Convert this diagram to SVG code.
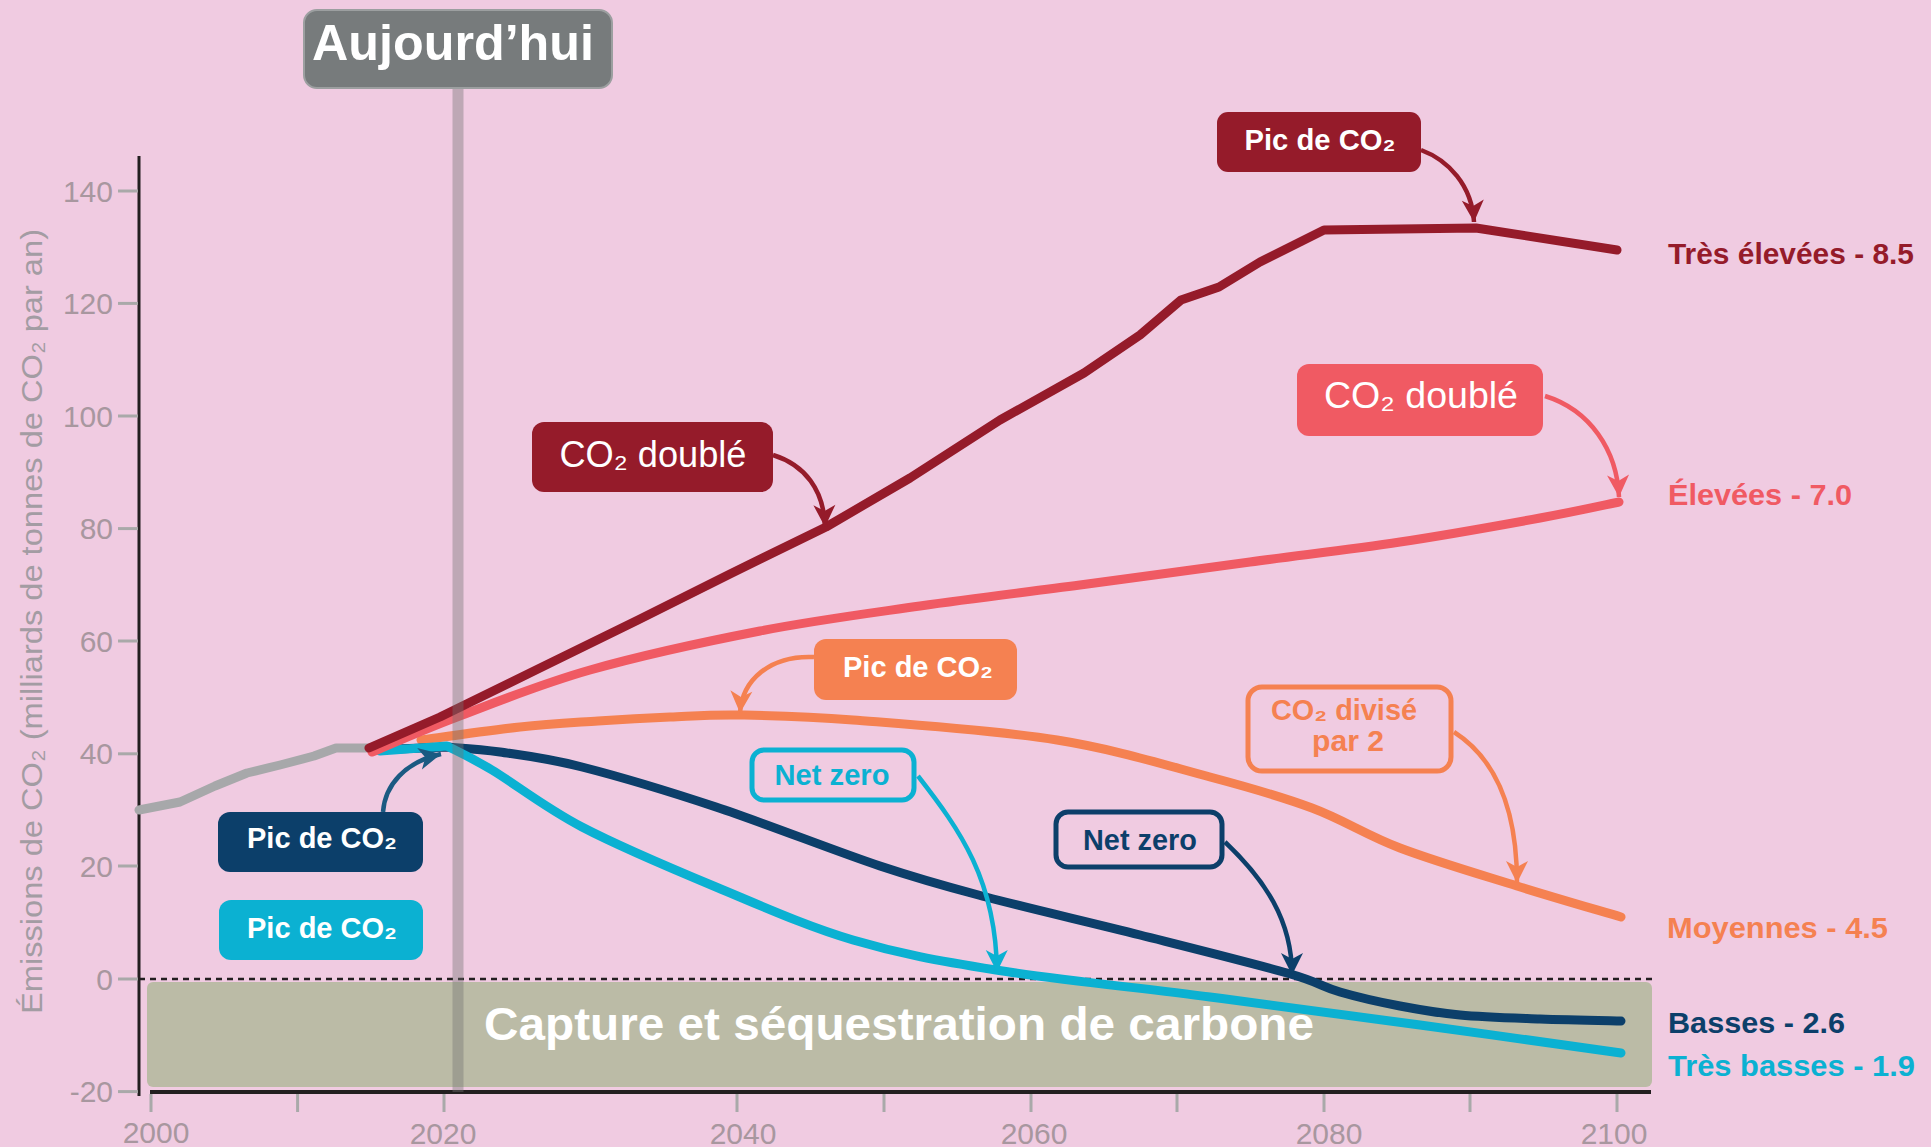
<svg xmlns="http://www.w3.org/2000/svg" width="1931" height="1147" viewBox="0 0 1931 1147">
<defs>
<style>
text{font-family:"Liberation Sans",Arial,sans-serif}
.tick{fill:#a8979f;font-size:30px}
.tl{stroke:#a9a9a9;stroke-width:3}
.series{fill:none;stroke-width:9;stroke-linejoin:round;stroke-linecap:round}
.conn{fill:none;stroke-width:4.5}
.lbl{fill:#fff;font-size:30px;font-weight:bold;text-anchor:middle}
.end{font-size:30px;font-weight:bold}
</style>
<marker id="a-dr" markerUnits="userSpaceOnUse" markerWidth="28" markerHeight="28" viewBox="-24 -14 28 28" refX="0" refY="0" orient="auto"><path d="M0,0 L-22,-11 L-16,0 L-22,11 Z" fill="#951b2a"/></marker>
<marker id="a-sa" markerUnits="userSpaceOnUse" markerWidth="28" markerHeight="28" viewBox="-24 -14 28 28" refX="0" refY="0" orient="auto"><path d="M0,0 L-22,-11 L-16,0 L-22,11 Z" fill="#f05a63"/></marker>
<marker id="a-or" markerUnits="userSpaceOnUse" markerWidth="28" markerHeight="28" viewBox="-24 -14 28 28" refX="0" refY="0" orient="auto"><path d="M0,0 L-22,-11 L-16,0 L-22,11 Z" fill="#f58151"/></marker>
<marker id="a-nv" markerUnits="userSpaceOnUse" markerWidth="28" markerHeight="28" viewBox="-24 -14 28 28" refX="0" refY="0" orient="auto"><path d="M0,0 L-22,-11 L-16,0 L-22,11 Z" fill="#0c3f6a"/></marker>
<marker id="a-nv2" markerUnits="userSpaceOnUse" markerWidth="28" markerHeight="28" viewBox="-24 -14 28 28" refX="0" refY="0" orient="auto"><path d="M0,0 L-22,-11 L-16,0 L-22,11 Z" fill="#1b5a82"/></marker>
<marker id="a-cy" markerUnits="userSpaceOnUse" markerWidth="28" markerHeight="28" viewBox="-24 -14 28 28" refX="0" refY="0" orient="auto"><path d="M0,0 L-22,-11 L-16,0 L-22,11 Z" fill="#0bb1d2"/></marker>
</defs>
<rect x="0" y="0" width="1931" height="1147" fill="#f0cbe1"/>

<g id="ccs">
<rect x="147" y="982" width="1505" height="105" rx="6" fill="#bbbba6"/>
<text x="484" y="1040" fill="#fff" font-size="46" font-weight="bold" textLength="830" lengthAdjust="spacingAndGlyphs">Capture et séquestration de carbone</text>
</g>

<g id="axes">
<line x1="139" y1="979" x2="1652" y2="979" stroke="#231f20" stroke-width="2.5" stroke-dasharray="6 5"/>
<line x1="139" y1="156" x2="139" y2="1096" stroke="#231f20" stroke-width="3"/>
<line x1="150" y1="1092" x2="1651" y2="1092" stroke="#231f20" stroke-width="4"/>
<g class="tl">
<line x1="118" y1="191" x2="138" y2="191"/>
<line x1="118" y1="303.4" x2="138" y2="303.4"/>
<line x1="118" y1="416" x2="138" y2="416"/>
<line x1="118" y1="528.6" x2="138" y2="528.6"/>
<line x1="118" y1="641" x2="138" y2="641"/>
<line x1="118" y1="753.8" x2="138" y2="753.8"/>
<line x1="118" y1="866" x2="138" y2="866"/>
<line x1="118" y1="979" x2="138" y2="979"/>
<line x1="118" y1="1091.6" x2="138" y2="1091.6"/>
<line x1="151" y1="1094" x2="151" y2="1112"/>
<line x1="297.6" y1="1094" x2="297.6" y2="1112"/>
<line x1="444" y1="1094" x2="444" y2="1112"/>
<line x1="737" y1="1094" x2="737" y2="1112"/>
<line x1="884" y1="1094" x2="884" y2="1112"/>
<line x1="1031" y1="1094" x2="1031" y2="1112"/>
<line x1="1177" y1="1094" x2="1177" y2="1112"/>
<line x1="1324" y1="1094" x2="1324" y2="1112"/>
<line x1="1470" y1="1094" x2="1470" y2="1112"/>
<line x1="1617" y1="1094" x2="1617" y2="1112"/>
</g>
<g class="tick" text-anchor="end">
<text x="113" y="202">140</text>
<text x="113" y="314">120</text>
<text x="113" y="427">100</text>
<text x="113" y="539">80</text>
<text x="113" y="652">60</text>
<text x="113" y="764">40</text>
<text x="113" y="877">20</text>
<text x="113" y="990">0</text>
<text x="113" y="1102">-20</text>
</g>
<g class="tick" text-anchor="middle" font-size="31">
<text x="156" y="1143">2000</text>
<text x="443" y="1144">2020</text>
<text x="743" y="1144">2040</text>
<text x="1034" y="1144">2060</text>
<text x="1329" y="1144">2080</text>
<text x="1614" y="1144">2100</text>
</g>
<text transform="translate(42,1014) rotate(-90)" fill="#a39ca3" font-size="30" textLength="785" lengthAdjust="spacingAndGlyphs">Émissions de CO₂ (milliards de tonnes de CO₂ par an)</text>
</g>

<g id="series-lines">
<polyline class="series" stroke="#a7a8aa" points="139,810 180,802 215,786 247,773 280,765 314,756 336,748 372,748"/>
<path class="series" stroke="#f58151" d="M421,740 C437.5,737.8 490.5,730.2 520,727 C549.5,723.8 573,722.7 598,721 C623,719.3 646.3,718 670,717 C693.7,716 709.5,714.5 740,715 C770.5,715.5 800.2,715.8 853,720 C905.8,724.2 997.5,730.5 1057,740 C1116.5,749.5 1167.5,765.7 1210,777 C1252.5,788.3 1280.3,796.2 1312,808 C1343.7,819.8 1365.8,835 1400,848 C1434.2,861 1480.2,874.5 1517,886 C1553.8,897.5 1603.7,911.8 1621,917"/>
<path class="series" stroke="#0c3f6a" d="M372,750 L447,747 C455.8,747.8 477.5,748.7 500,752 C522.5,755.3 546,757.8 582,767 C618,776.2 666.3,790.5 716,807 C765.7,823.5 835,851 880,866 C925,881 942.7,885.5 986,897 C1029.3,908.5 1089.8,922.3 1140,935 C1190.2,947.7 1253.7,963.5 1287,973 C1320.3,982.5 1321.2,986.5 1340,992 C1358.8,997.5 1380,1002.2 1400,1006 C1420,1009.8 1436.7,1012.8 1460,1015 C1483.3,1017.2 1513.2,1018 1540,1019 C1566.8,1020 1607.5,1020.7 1621,1021"/>
<path class="series" stroke="#0bb1d2" d="M380,751 L447,746 C454.5,750 469.5,756.5 492,770 C514.5,783.5 544.7,807.5 582,827 C619.3,846.5 670.8,868.2 716,887 C761.2,905.8 806.3,926.2 853,940 C899.7,953.8 936.5,960.5 996,970 C1055.5,979.5 1139.3,987.8 1210,997 C1280.7,1006.2 1351.5,1015.7 1420,1025 C1488.5,1034.3 1587.5,1048.3 1621,1053"/>
<path class="series" stroke="#f05a63" d="M372,752 C386.2,746.2 420.7,730.7 457,717 C493.3,703.3 539.5,684.3 590,670 C640.5,655.7 705,641.7 760,631 C815,620.3 866.7,613.7 920,606 C973.3,598.3 1025,592.3 1080,585 C1135,577.7 1196.7,569.2 1250,562 C1303.3,554.8 1351.7,549.3 1400,542 C1448.3,534.7 1503.5,524.7 1540,518 C1576.5,511.3 1605.8,504.7 1619,502"/>
<polyline class="series" stroke="#951b2a" points="369,748 440,717 540,668 638,620 730,574 826,527 910,478 1000,420 1084,373 1140,335 1181,300 1219,287 1260,262 1324,230 1476,228 1617,250"/>
</g>

<line id="today-line" x1="458" y1="88" x2="458" y2="1092" stroke="#747474" stroke-opacity="0.4" stroke-width="11"/>

<g id="connectors">
<path class="conn" stroke="#951b2a" marker-end="url(#a-dr)" d="M1421,150 C1448,160 1472,185 1474,222"/>
<path class="conn" stroke="#951b2a" marker-end="url(#a-dr)" d="M773,455 C805,465 824,490 825,527"/>
<path class="conn" stroke="#f05a63" marker-end="url(#a-sa)" d="M1545,396 C1590,410 1617,450 1619,497"/>
<path class="conn" stroke="#f58151" marker-end="url(#a-or)" d="M814,657 C770,655 742,680 740,713"/>
<path class="conn" stroke="#1b5a82" marker-end="url(#a-nv2)" d="M383,812 C385,785 405,762 441,754"/>
<path class="conn" stroke="#0bb1d2" stroke-width="4" marker-end="url(#a-cy)" d="M918,776 C960,830 996,880 997,972"/>
<path class="conn" stroke="#0c3f6a" stroke-width="4" marker-end="url(#a-nv)" d="M1225,842 C1265,880 1292,920 1292,975"/>
<path class="conn" stroke="#f58151" marker-end="url(#a-or)" d="M1454,732 C1490,755 1517,800 1517,883"/>
</g>

<g id="node-today">
<rect x="304" y="10" width="308" height="78" rx="13" fill="#777b7c" stroke="#9c9fa0" stroke-width="2"/>
<text x="453" y="60" fill="#fff" font-size="50" font-weight="bold" text-anchor="middle" textLength="282" lengthAdjust="spacingAndGlyphs">Aujourd’hui</text>
</g>

<g id="node-peak-veryhigh">
<rect x="1217" y="112" width="204" height="60" rx="11" fill="#951b2a"/>
<text class="lbl" x="1320" y="150" textLength="151" lengthAdjust="spacingAndGlyphs">Pic de CO₂</text>
</g>
<g id="node-double-veryhigh">
<rect x="532" y="422" width="241" height="70" rx="12" fill="#951b2a"/>
<text x="653" y="467" fill="#fff" font-size="36" text-anchor="middle" textLength="187" lengthAdjust="spacingAndGlyphs">CO₂ doublé</text>
</g>
<g id="node-double-high">
<rect x="1297" y="364" width="246" height="72" rx="12" fill="#f05a63"/>
<text x="1421" y="408" fill="#fff" font-size="36" text-anchor="middle" textLength="194" lengthAdjust="spacingAndGlyphs">CO₂ doublé</text>
</g>
<g id="node-peak-medium">
<rect x="814" y="639" width="203" height="61" rx="12" fill="#f58151"/>
<text class="lbl" x="918" y="677" textLength="150" lengthAdjust="spacingAndGlyphs">Pic de CO₂</text>
</g>
<g id="node-peak-low">
<rect x="218" y="812" width="205" height="60" rx="12" fill="#0c3f6a"/>
<text class="lbl" x="322" y="848" textLength="150" lengthAdjust="spacingAndGlyphs">Pic de CO₂</text>
</g>
<g id="node-peak-verylow">
<rect x="219" y="900" width="204" height="60" rx="12" fill="#0bb1d2"/>
<text class="lbl" x="322" y="938" textLength="150" lengthAdjust="spacingAndGlyphs">Pic de CO₂</text>
</g>
<g id="node-netzero-verylow">
<rect x="752" y="750" width="162" height="50" rx="12" fill="none" stroke="#0bb1d2" stroke-width="5"/>
<text x="832" y="785" fill="#0bb1d2" font-size="29" font-weight="bold" text-anchor="middle" textLength="115" lengthAdjust="spacingAndGlyphs">Net zero</text>
</g>
<g id="node-netzero-low">
<rect x="1056" y="812" width="166" height="55" rx="12" fill="none" stroke="#0c3f6a" stroke-width="5"/>
<text x="1140" y="850" fill="#0c3f6a" font-size="29" font-weight="bold" text-anchor="middle" textLength="114" lengthAdjust="spacingAndGlyphs">Net zero</text>
</g>
<g id="node-half-medium">
<rect x="1248" y="687" width="203" height="84" rx="14" fill="none" stroke="#f58151" stroke-width="5"/>
<text x="1344" y="720" fill="#f58151" font-size="29" font-weight="bold" text-anchor="middle" textLength="146" lengthAdjust="spacingAndGlyphs">CO₂ divisé</text>
<text x="1348" y="751" fill="#f58151" font-size="29" font-weight="bold" text-anchor="middle" textLength="72" lengthAdjust="spacingAndGlyphs">par 2</text>
</g>

<g id="series-labels">
<text class="end" x="1668" y="264" fill="#951b2a" textLength="246" lengthAdjust="spacingAndGlyphs">Très élevées - 8.5</text>
<text class="end" x="1668" y="505" fill="#f05a63" textLength="184" lengthAdjust="spacingAndGlyphs">Élevées - 7.0</text>
<text class="end" x="1667" y="938" fill="#f58151" textLength="221" lengthAdjust="spacingAndGlyphs">Moyennes - 4.5</text>
<text class="end" x="1668" y="1033" fill="#0c3f6a" textLength="177" lengthAdjust="spacingAndGlyphs">Basses - 2.6</text>
<text class="end" x="1668" y="1076" fill="#0bb1d2" textLength="247" lengthAdjust="spacingAndGlyphs">Très basses - 1.9</text>
</g>
</svg>
